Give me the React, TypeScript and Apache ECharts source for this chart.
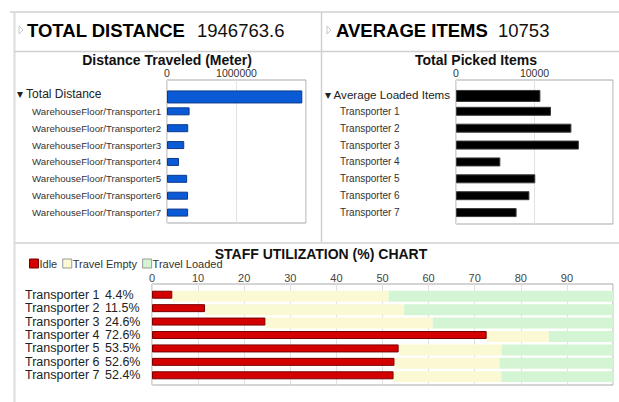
import React, { useEffect, useRef } from 'react';
import * as echarts from 'echarts';

// ---- data ----
const totalDistance = 1946763.6;
const distanceCategories = [
  'Total Distance',
  'WarehouseFloor/Transporter1',
  'WarehouseFloor/Transporter2',
  'WarehouseFloor/Transporter3',
  'WarehouseFloor/Transporter4',
  'WarehouseFloor/Transporter5',
  'WarehouseFloor/Transporter6',
  'WarehouseFloor/Transporter7',
];
const transporterDistance = [325000, 305000, 248000, 172000, 290000, 303000, 304000];
const distanceMax = 2000000;
const distanceInterval = 1000000;

const averageItems = 10753;
const itemCategories = [
  'Average Loaded Items',
  'Transporter 1',
  'Transporter 2',
  'Transporter 3',
  'Transporter 4',
  'Transporter 5',
  'Transporter 6',
  'Transporter 7',
];
const transporterItems = [12100, 14700, 15650, 5650, 10100, 9350, 7720];
const itemsMax = 20000;
const itemsInterval = 10000;

const staffNames = [
  'Transporter 1',
  'Transporter 2',
  'Transporter 3',
  'Transporter 4',
  'Transporter 5',
  'Transporter 6',
  'Transporter 7',
];
const idle = [4.4, 11.5, 24.6, 72.6, 53.5, 52.6, 52.4];
const travelEmpty = [46.9, 43.2, 36.3, 13.5, 22.3, 22.8, 23.4];
const travelLoaded = [48.7, 45.3, 39.1, 13.9, 24.2, 24.6, 24.2];
const utilMax = 100;
const utilInterval = 10;

const FONT = '"Liberation Sans", Arial, sans-serif';

export default function App() {
  const ref = useRef<HTMLDivElement>(null);

  useEffect(() => {
    if (!ref.current) return;
    const chart = echarts.init(ref.current, undefined, { renderer: 'svg' });

    const lineColor = '#dcdcdc';
    const gridLine = { show: true, lineStyle: { color: '#e2e2e2', width: 1 } };
    const frameGrid = { show: true, borderColor: '#a8a8a8', borderWidth: 1, backgroundColor: 'transparent' };
    const plain = (v: number) => String(v);

    const hiddenValueY = (gridIndex: number) => ({ type: 'value', gridIndex, show: false });

    const option: any = {
      animation: false,
      backgroundColor: '#ffffff',
      textStyle: { fontFamily: FONT },
      grid: [
        { left: 167, top: 80, width: 139, height: 143, ...frameGrid },
        { left: 167, top: 86, width: 139, height: 135 },
        { left: 456, top: 80, width: 157, height: 144, ...frameGrid },
        { left: 456, top: 86, width: 157, height: 135 },
        { left: 152, top: 284, width: 461, height: 101, ...frameGrid },
        { left: 152, top: 288, width: 461, height: 94 },
      ],
      xAxis: [
        {
          type: 'value', gridIndex: 0, min: 0, max: distanceMax, interval: distanceInterval, position: 'top',
          axisLine: { show: false }, axisTick: { show: false }, splitLine: gridLine,
          axisLabel: { fontSize: 10.5, lineHeight: 11, color: '#333', margin: 2, showMaxLabel: false, fontFamily: FONT, formatter: plain },
        },
        { type: 'value', gridIndex: 1, min: 0, max: distanceMax, show: false },
        {
          type: 'value', gridIndex: 2, min: 0, max: itemsMax, interval: itemsInterval, position: 'top',
          axisLine: { show: false }, axisTick: { show: false }, splitLine: gridLine,
          axisLabel: { fontSize: 10.5, lineHeight: 11, color: '#333', margin: 2, showMaxLabel: false, fontFamily: FONT, formatter: plain },
        },
        { type: 'value', gridIndex: 3, min: 0, max: itemsMax, show: false },
        {
          type: 'value', gridIndex: 4, min: 0, max: utilMax, interval: utilInterval, position: 'top',
          axisLine: { show: false }, axisTick: { show: false }, splitLine: gridLine,
          axisLabel: { fontSize: 11, lineHeight: 11, color: '#444', margin: 1, showMaxLabel: false, fontFamily: FONT, formatter: plain },
        },
        { type: 'value', gridIndex: 5, min: 0, max: utilMax, show: false },
      ],
      yAxis: [
        hiddenValueY(0),
        {
          type: 'category', gridIndex: 1, data: distanceCategories, inverse: true,
          axisLine: { show: false }, axisTick: { show: false },
          axisLabel: {
            interval: 0, align: 'left', margin: 150,
            formatter: (v: string, i: number) => (i === 0 ? `{t|▾ ${v}}` : `{s|${v}}`),
            rich: {
              t: { fontSize: 12, color: '#222', fontFamily: FONT },
              s: { fontSize: 9.7, color: '#333', padding: [0, 0, 0, 15], fontFamily: FONT },
            },
          },
        },
        hiddenValueY(2),
        {
          type: 'category', gridIndex: 3, data: itemCategories, inverse: true,
          axisLine: { show: false }, axisTick: { show: false },
          axisLabel: {
            interval: 0, align: 'left', margin: 131,
            formatter: (v: string, i: number) => (i === 0 ? `{t|▾ ${v}}` : `{s|${v}}`),
            rich: {
              t: { fontSize: 11.6, color: '#222', fontFamily: FONT },
              s: { fontSize: 10, color: '#333', padding: [0, 0, 0, 15], fontFamily: FONT },
            },
          },
        },
        hiddenValueY(4),
        {
          type: 'category', gridIndex: 5, data: staffNames, inverse: true,
          axisLine: { show: false }, axisTick: { show: false },
          axisLabel: {
            interval: 0, align: 'left', margin: 127,
            formatter: (v: string, i: number) => `{n|${v}}{p|${idle[i].toFixed(1)}%}`,
            rich: {
              n: { fontSize: 12.5, color: '#222', width: 80, fontFamily: FONT, lineHeight: 13 },
              p: { fontSize: 12.5, color: '#222', fontFamily: FONT, lineHeight: 13 },
            },
          },
        },
      ],
      legend: {
        left: 24, top: 256, itemWidth: 9, itemHeight: 9, itemGap: 5, icon: 'rect', padding: [2, 5, 2, 5],
        textStyle: { fontSize: 11, lineHeight: 11, color: '#333', fontFamily: FONT, padding: [0, 0, 0, -4] },
        data: [
          { name: 'Idle', itemStyle: { color: '#d40000', borderColor: '#7a0000', borderWidth: 1 } },
          { name: 'Travel Empty', itemStyle: { color: '#fbf9d3', borderColor: '#999', borderWidth: 1 } },
          { name: 'Travel Loaded', itemStyle: { color: '#d3f5d3', borderColor: '#999', borderWidth: 1 } },
        ],
      },
      series: [
        {
          name: 'Total Distance', type: 'bar', xAxisIndex: 1, yAxisIndex: 1, barWidth: 13, barGap: '-100%',
          data: [totalDistance, ...transporterDistance.map(() => '-')],
          itemStyle: { color: '#0a5ad6', borderColor: '#0c3a8c', borderWidth: 1 },
        },
        {
          name: 'Transporter Distance', type: 'bar', xAxisIndex: 1, yAxisIndex: 1, barWidth: 8, barGap: '-100%',
          data: ['-', ...transporterDistance],
          itemStyle: { color: '#0a5ad6', borderColor: '#0c3a8c', borderWidth: 1 },
        },
        {
          name: 'Average Loaded Items', type: 'bar', xAxisIndex: 3, yAxisIndex: 3, barWidth: 12, barGap: '-100%',
          data: [averageItems, ...transporterItems.map(() => '-')],
          itemStyle: { color: '#000000', borderColor: '#3a3a3a', borderWidth: 1 },
        },
        {
          name: 'Transporter Items', type: 'bar', xAxisIndex: 3, yAxisIndex: 3, barWidth: 9, barGap: '-100%',
          data: ['-', ...transporterItems],
          itemStyle: { color: '#000000', borderColor: '#3a3a3a', borderWidth: 1 },
        },
        {
          name: 'Idle base', type: 'bar', xAxisIndex: 5, yAxisIndex: 5, stack: 'util', barWidth: 11, barGap: '-100%',
          data: idle, silent: true, itemStyle: { color: 'transparent' },
        },
        {
          name: 'Travel Empty', type: 'bar', xAxisIndex: 5, yAxisIndex: 5, stack: 'util', barWidth: 11, barGap: '-100%',
          data: travelEmpty, itemStyle: { color: '#fbf9d3' },
        },
        {
          name: 'Travel Loaded', type: 'bar', xAxisIndex: 5, yAxisIndex: 5, stack: 'util', barWidth: 11, barGap: '-100%',
          data: travelLoaded, itemStyle: { color: '#d3f5d3' },
        },
        {
          name: 'Idle', type: 'bar', xAxisIndex: 5, yAxisIndex: 5, barWidth: 8, barGap: '-100%', z: 3,
          data: idle, itemStyle: { color: '#d40000', borderColor: '#7a0000', borderWidth: 1 },
        },
      ],
      graphic: [
        { type: 'line', shape: { x1: 10, y1: 12, x2: 619, y2: 12 }, style: { stroke: lineColor, lineWidth: 2 } },
        { type: 'line', shape: { x1: 14.5, y1: 12, x2: 14.5, y2: 402 }, style: { stroke: lineColor, lineWidth: 2 } },
        { type: 'line', shape: { x1: 14, y1: 51.5, x2: 619, y2: 51.5 }, style: { stroke: '#d0d0d0', lineWidth: 1.5 } },
        { type: 'line', shape: { x1: 321.5, y1: 12, x2: 321.5, y2: 243 }, style: { stroke: '#d0d0d0', lineWidth: 1.5 } },
        { type: 'line', shape: { x1: 14, y1: 243, x2: 619, y2: 243 }, style: { stroke: lineColor, lineWidth: 2 } },
        { type: 'polygon', shape: { points: [[19, 26], [23, 30], [19, 34]] }, style: { fill: 'none', stroke: '#c8c8c8', lineWidth: 1 } },
        { type: 'polygon', shape: { points: [[327, 26], [331, 30], [327, 34]] }, style: { fill: 'none', stroke: '#c8c8c8', lineWidth: 1 } },
        {
          type: 'text', x: 27, y: 30,
          style: { text: 'TOTAL DISTANCE', fontSize: 18.5, fontWeight: 'bold', fontFamily: FONT, fill: '#000', align: 'left', verticalAlign: 'middle', textAlign: 'left', textVerticalAlign: 'middle' },
        },
        {
          type: 'text', x: 197, y: 30,
          style: { text: String(totalDistance), fontSize: 18.5, fontFamily: FONT, fill: '#111', align: 'left', verticalAlign: 'middle', textAlign: 'left', textVerticalAlign: 'middle' },
        },
        {
          type: 'text', x: 336, y: 30,
          style: { text: 'AVERAGE ITEMS', fontSize: 18.5, fontWeight: 'bold', fontFamily: FONT, fill: '#000', align: 'left', verticalAlign: 'middle', textAlign: 'left', textVerticalAlign: 'middle' },
        },
        {
          type: 'text', x: 498, y: 30,
          style: { text: String(averageItems), fontSize: 18.5, fontFamily: FONT, fill: '#111', align: 'left', verticalAlign: 'middle', textAlign: 'left', textVerticalAlign: 'middle' },
        },
        {
          type: 'text', x: 167, y: 60,
          style: { text: 'Distance Traveled (Meter)', fontSize: 14, fontWeight: 'bold', fontFamily: FONT, fill: '#111', align: 'center', verticalAlign: 'middle', textAlign: 'center', textVerticalAlign: 'middle' },
        },
        {
          type: 'text', x: 476, y: 60,
          style: { text: 'Total Picked Items', fontSize: 14, fontWeight: 'bold', fontFamily: FONT, fill: '#111', align: 'center', verticalAlign: 'middle', textAlign: 'center', textVerticalAlign: 'middle' },
        },
        {
          type: 'text', x: 321, y: 254,
          style: { text: 'STAFF UTILIZATION (%) CHART', fontSize: 14, fontWeight: 'bold', fontFamily: FONT, fill: '#111', align: 'center', verticalAlign: 'middle', textAlign: 'center', textVerticalAlign: 'middle' },
        },
      ],
    };

    chart.setOption(option);
    return () => chart.dispose();
  }, []);

  return (
    <div
      ref={ref}
      style={{ position: 'absolute', left: 0, top: 0, width: 619, height: 402, background: '#fff' }}
    />
  );
}
